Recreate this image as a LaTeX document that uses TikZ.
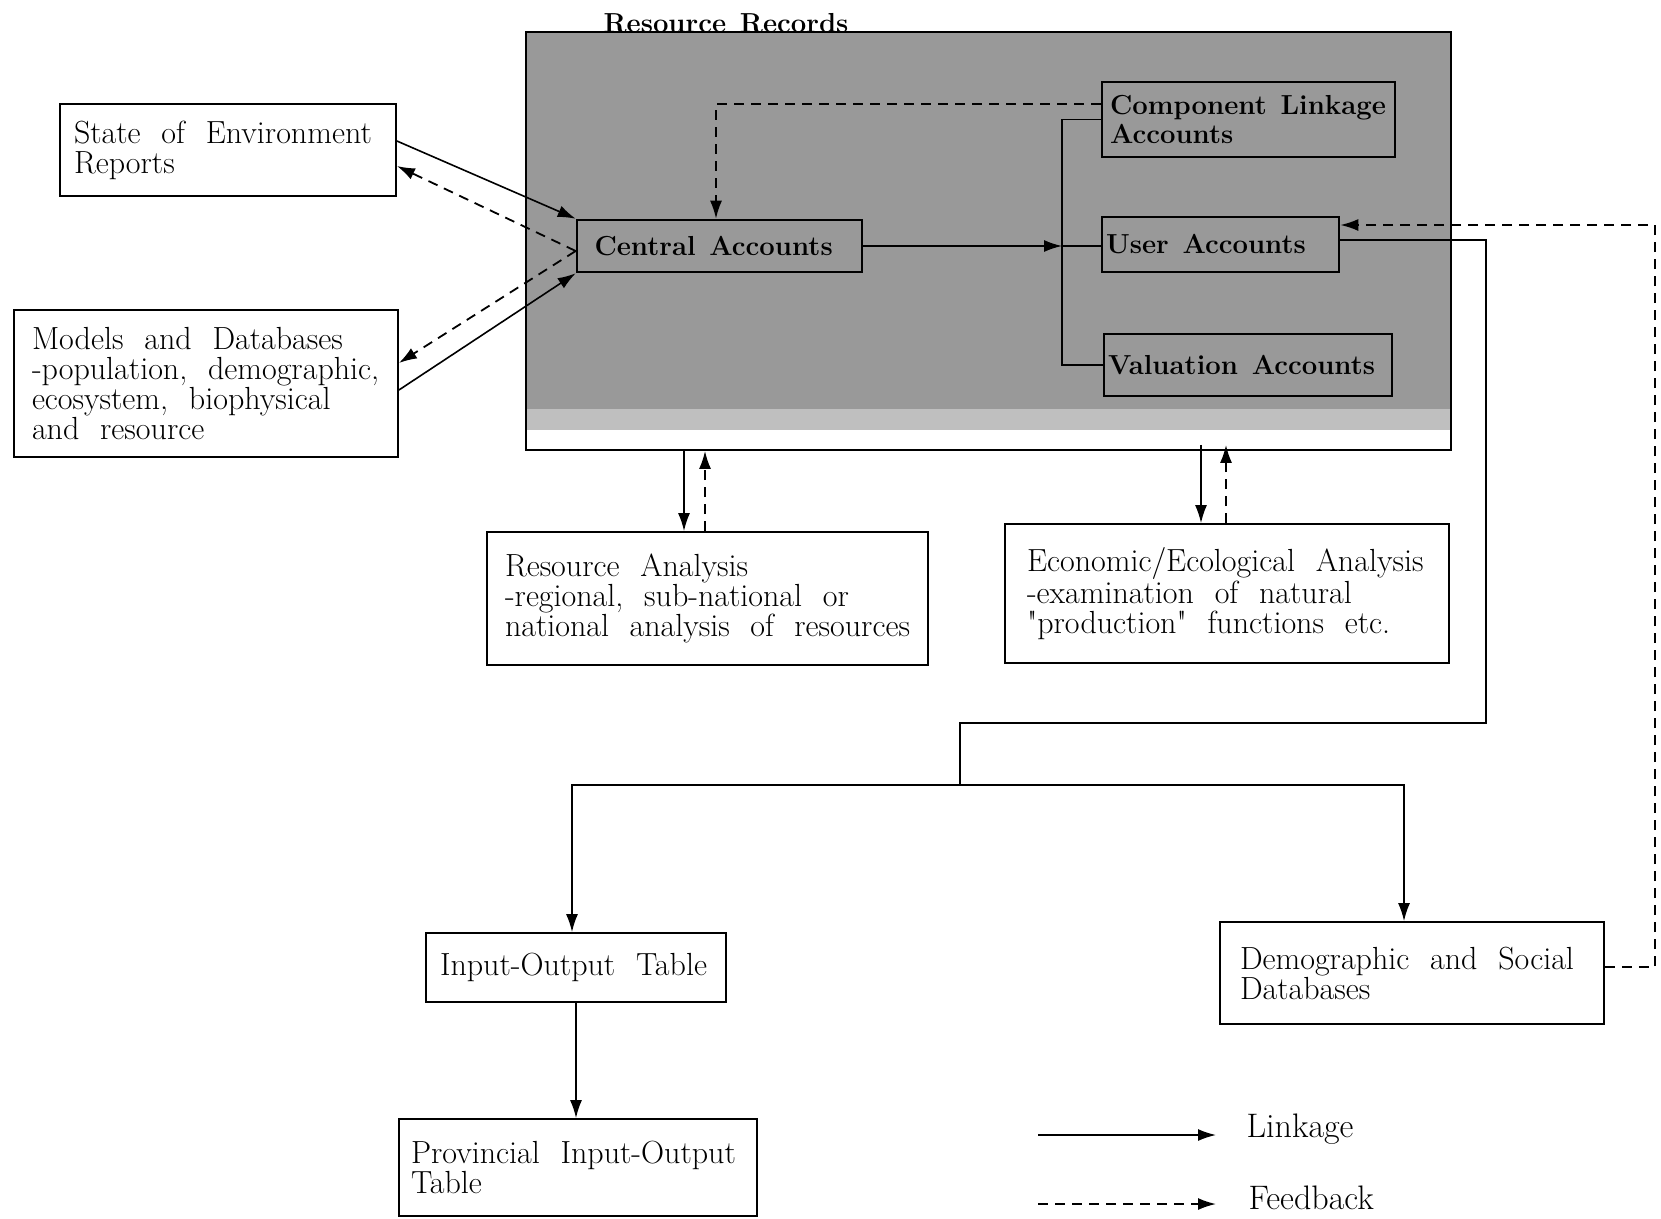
\documentclass[tikz,border=0pt]{standalone}
\usetikzlibrary{arrows.meta,backgrounds,calc}
\newcommand\bodyfont{\fontsize{32}{30}\selectfont}
\newcommand\legfont{\fontsize{34}{36}\selectfont}
\newcommand\boldfont{\fontsize{27.5}{28.5}\selectfont\bfseries\spaceskip=0.5em plus 0.1em minus 0.1em\relax}
\begin{document}
\begin{tikzpicture}[x=1pt,y=-1pt,
  box/.style={draw, line width=1.8pt, align=left, inner ysep=0pt, font=\bodyfont,
    execute at begin node={\hyphenpenalty=10000\exhyphenpenalty=10000\spaceskip=0.65em plus 0.1em minus 0.1em\relax}},
  ibox/.style={draw, line width=2.6pt, align=left, inner ysep=0pt, font=\boldfont,
    execute at begin node={\hyphenpenalty=10000\exhyphenpenalty=10000\spaceskip=0.5em plus 0.1em minus 0.1em\relax}},
  link/.style={line width=1.6pt, -{Latex[length=18pt,width=12pt]}},
  plain/.style={line width=1.6pt},
  fb/.style={line width=1.8pt, dash pattern=on 10pt off 7pt, -{Latex[length=18pt,width=12pt]}},
]
\useasboundingbox (0,0) rectangle (1661,1218);

% Resource Records frame
\node[draw, line width=1.8pt, minimum width=925pt, minimum height=418pt, inner sep=0pt] (rr) at (988.5,241) {};
\begin{scope}[on background layer]
  \fill[black!40] (rr.north west) rectangle ([yshift=42pt]rr.south east);
  \fill[black!25] ([yshift=42pt]rr.south west) rectangle ([yshift=21pt]rr.south east);
\end{scope}
\node[font=\boldfont] (rrlabel) at (726,23) {Resource~Records};

% inner boxes
\node[ibox, text width=250pt, inner xsep=17.5pt, minimum height=52pt] (central) at (719.5,246) {Central~Accounts};
\node[ibox, text width=277pt, inner xsep=8pt, minimum height=75pt] (comp) at (1248.5,119.5) {Component~Linkage\\Accounts};
\node[ibox, text width=229pt, inner xsep=4pt, minimum height=55pt] (user) at (1220.5,244.5) {User~Accounts};
\node[ibox, text width=280pt, inner xsep=4pt, minimum height=62pt] (val) at (1248,365) {Valuation~Accounts};

% outer boxes
\node[box, text width=308pt, inner xsep=14pt, minimum height=92pt] (soe) at (228,150) {State~of~Environment\\Reports};
\node[box, text width=348pt, inner xsep=18pt, minimum height=147pt] (mdb) at (206,383.5) {Models~and~Databases\\-population,~demographic,\\ecosystem,~biophysical\\and~resource};
\node[box, text width=405pt, inner xsep=18pt, minimum height=133pt] (ra) at (707.5,598.5) {Resource~Analysis\\-regional,~sub-national~or\\national~analysis~of~resources};
\node[box, text width=400pt, inner xsep=22pt, minimum height=139pt] (econ) at (1227,593.5) {Economic/Ecological~Analysis\\-examination~of~natural\\\textquotedbl production\textquotedbl~functions~etc.};
\node[box, text width=272pt, inner xsep=14pt, minimum height=69pt] (io) at (576,967.5) {Input-Output~Table};
\node[box, text width=344pt, inner xsep=20pt, minimum height=102pt] (demog) at (1412,973) {Demographic~and~Social\\Databases};
\node[box, text width=334pt, inner xsep=12pt, minimum height=97pt] (prov) at (578,1167.5) {Provincial~Input-Output\\Table};

% connectors to / from Central Accounts
\draw[link] ([yshift=9pt]soe.east) -- (central.north west);
\draw[fb] ([yshift=-5pt]central.west) -- ([yshift=-16pt]soe.east);
\draw[fb] ([yshift=-5pt]central.west) -- ([yshift=20.5pt]mdb.east);
\draw[link] ([yshift=-6.5pt]mdb.east) -- (central.south west);

\coordinate (c1) at ([yshift=15.5pt]comp.west);
\coordinate (c2) at ([xshift=-3.5pt]central.north);
\draw[fb] (c1) -| (c2);

% bus
\coordinate (bx) at (1062,0);
\draw[link] (central.east) -- (central.east -| bx);
\draw[plain] (central.east -| bx) -- (central.east -| user.west);
\draw[plain] (comp.west) -- (comp.west -| bx) -- (val.west -| bx) -- (val.west);

% from User Accounts to lower databases
\coordinate (r1) at (1486,723);
\coordinate (j1) at (960,723);
\coordinate (j2) at (960,785);
\draw[plain] ([yshift=4.5pt]user.east) -| (r1) -- (j1) -- (j2);
\draw[link] (j2) -| ([xshift=-4pt]io.north);
\draw[link] (j2) -| ([xshift=-8pt]demog.north);

% feedback from Demographic to User Accounts
\coordinate (fbx) at (1655,0);
\coordinate (d1) at ([yshift=6pt]demog.east);
\coordinate (u1) at ([yshift=19.5pt]user.east);
\draw[fb] (d1) -- (d1 -| fbx) -- (u1 -| fbx) -- (u1);

% analysis arrows
\coordinate (a1) at ([xshift=-23.5pt]ra.north);
\coordinate (a2) at ([xshift=-2.5pt]ra.north);
\draw[link] (a1 |- rr.south) -- (a1);
\draw[fb] (a2) -- (a2 |- rr.south);
\coordinate (e1) at ([xshift=-26pt]econ.north);
\coordinate (e2) at ([xshift=-1pt]econ.north);
\draw[link] ([yshift=6pt]e1 |- rr.south) -- (e1);
\draw[fb] (e2) -- ([yshift=6pt]e2 |- rr.south);

% IO -> Provincial
\draw[link] (io.south) -- (io.south |- prov.north);

% legend
\coordinate (l1) at (1038,1135);
\coordinate (l2) at (1216,1135);
\draw[link] (l1) -- (l2);
\node[font=\legfont, anchor=west] (lk) at (1243,1129) {Linkage};
\coordinate (l3) at (1038,1204);
\coordinate (l4) at (1216,1204);
\draw[fb] (l3) -- (l4);
\node[font=\legfont, anchor=west] (fbk) at (1245,1198) {Feedback};
\end{tikzpicture}
\end{document}
